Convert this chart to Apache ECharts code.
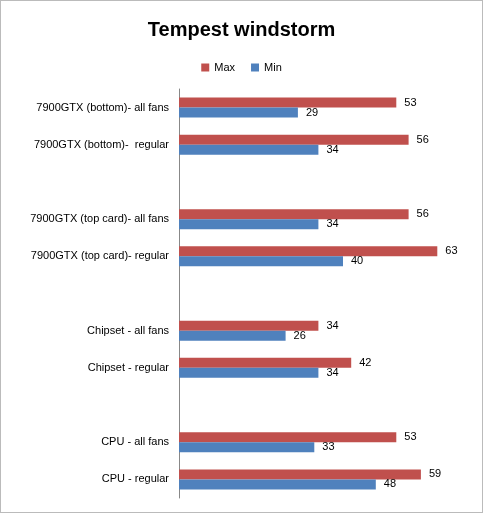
<!DOCTYPE html>
<html><head><meta charset="utf-8">
<script src="https://cdn.jsdelivr.net/npm/echarts@6/dist/echarts.min.js"></script>
<style>html,body{margin:0;padding:0;background:#fff}#c{width:481px;height:511px;border:1px solid #bbb}</style>
</head><body><div id="c"></div>
<script>
var categories = ['7900GTX (bottom)- all fans', '7900GTX (bottom)-  regular', '',
  '7900GTX (top card)- all fans', '7900GTX (top card)- regular', '',
  'Chipset - all fans', 'Chipset - regular', '',
  'CPU - all fans', 'CPU - regular'];
var maxValues = [53, 56, null, 56, 63, null, 34, 42, null, 53, 59];
var minValues = [29, 34, null, 34, 40, null, 26, 34, null, 33, 48];

var chart = echarts.init(document.getElementById('c'));
var lbl = {show: true, position: 'right', color: '#000', fontSize: 11, fontFamily: 'Liberation Sans', distance: 8};
chart.setOption({
  animation: false,
  title: {text: 'Tempest windstorm', left: 'center', top: 14,
    textStyle: {fontSize: 20, fontWeight: 'bold', color: '#000', fontFamily: 'Liberation Sans'}},
  legend: {top: 56, left: 'center', itemWidth: 8, itemHeight: 8, icon: 'rect', itemGap: 16,
    textStyle: {fontSize: 11, color: '#000', fontFamily: 'Liberation Sans'},
    data: ['Max', 'Min']},
  grid: {left: 178, right: 16, top: 88, bottom: 14},
  xAxis: {type: 'value', min: 0, max: 70, show: false},
  yAxis: {type: 'category', inverse: true, data: categories,
    axisLine: {lineStyle: {color: '#888'}}, axisTick: {show: false},
    axisLabel: {color: '#000', fontSize: 11, fontFamily: 'Liberation Sans', margin: 10}},
  series: [
    {name: 'Max', type: 'bar', data: maxValues, barWidth: 10, barGap: '0%',
      itemStyle: {color: '#C0504D'}, label: lbl},
    {name: 'Min', type: 'bar', data: minValues, barWidth: 10,
      itemStyle: {color: '#4F81BD'}, label: lbl}
  ]
});
</script></body></html>
